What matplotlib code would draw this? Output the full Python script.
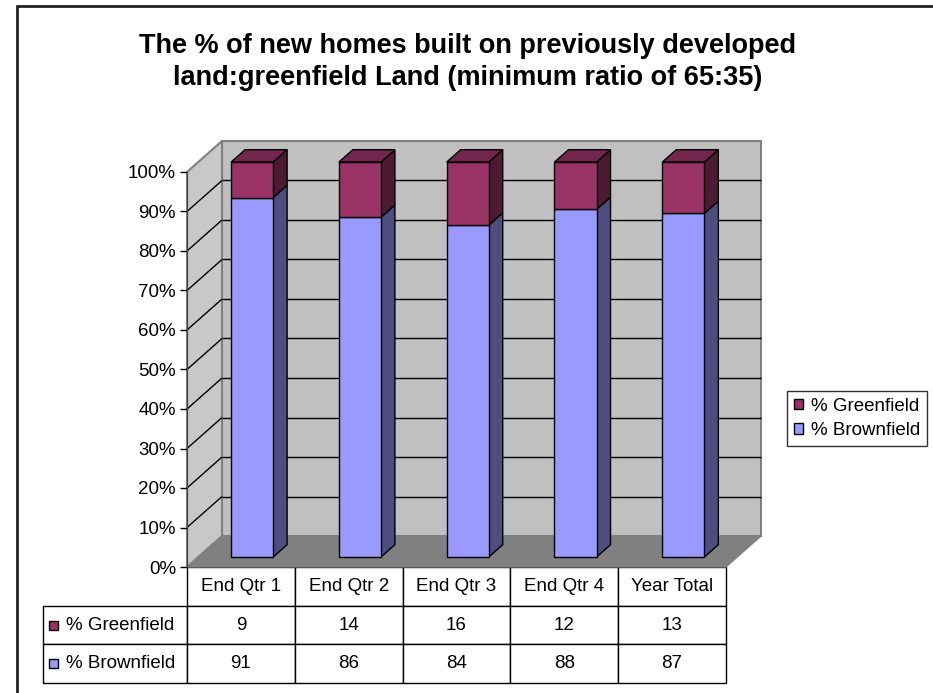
import matplotlib
matplotlib.use("Agg")
from matplotlib import pyplot
from matplotlib import transforms
from matplotlib.patches import Rectangle, Polygon, Patch
from matplotlib.collections import LineCollection
from matplotlib.table import Table

pyplot.rcParams['font.family'] = ['Liberation Sans', 'DejaVu Sans']

# data
categories = ['End Qtr 1', 'End Qtr 2', 'End Qtr 3', 'End Qtr 4', 'Year Total']
greenfield = [9, 14, 16, 12, 13]
brownfield = [91, 86, 84, 88, 87]
series_names = ['% Greenfield', '% Brownfield']
y_ticks = [0, 10, 20, 30, 40, 50, 60, 70, 80, 90, 100]
y_tick_labels = ['0%', '10%', '20%', '30%', '40%', '50%', '60%', '70%', '80%', '90%', '100%']
TITLE = ('The % of new homes built on previously developed\n'
         'land:greenfield Land (minimum ratio of 65:35)')

BROWN_FRONT = '#9999ff'
BROWN_SIDE = '#4d4d80'
GREEN_FRONT = '#993366'
GREEN_SIDE = '#4d1a33'
GREEN_TOP = '#73264d'

DX, DY = 35, 31          # depth of the 3d box, in dots
F0, F1 = 0.32, 0.72      # front / back of the bars, as share of the depth
BAR_W = 0.39
FS = 13.5

fig = pyplot.figure(figsize=(9.33, 6.93), dpi=100)
ax = fig.add_axes([187 / 933, 126 / 693, 539 / 933, 395 / 693])
ax.set_xlim(-0.5, len(categories) - 0.5)
ax.set_ylim(0, 100)
ax.autoscale(False)
ax.set_facecolor('none')

ident = transforms.IdentityTransform()


def depth_t(d):
    return transforms.offset_copy(ax.transData, fig=fig, x=DX * d, y=DY * d, units='dots')


def px(x, y, d):
    X, Y = ax.transData.transform((x, y))
    return (X + DX * d, Y + DY * d)


x_lo, x_hi = -0.5, len(categories) - 0.5

# back wall, side wall, floor
ax.add_patch(Rectangle((x_lo, 0), x_hi - x_lo, 100, transform=depth_t(1),
                       facecolor='#c0c0c0', edgecolor='#808080', lw=1.5, zorder=0, clip_on=False))
ax.add_patch(Polygon([px(x_lo, 0, 0), px(x_lo, 100, 0), px(x_lo, 100, 1), px(x_lo, 0, 1)],
                     transform=ident, facecolor='#c8c8c8', edgecolor='#808080', lw=1.5,
                     zorder=0.5, clip_on=False))
ax.add_patch(Polygon([px(x_lo, 0, 0), px(x_hi, 0, 0), px(x_hi, 0, 1), px(x_lo, 0, 1)],
                     transform=ident, facecolor='#808080', edgecolor='#808080', lw=1,
                     zorder=1, clip_on=False))

# gridlines on the back wall and on the side wall
ax.hlines(y_ticks[1:-1], x_lo, x_hi, transform=depth_t(1), colors='black', lw=1,
          zorder=1.5, clip_on=False)
diag = [[px(x_lo, y, 0), px(x_lo, y, 1)] for y in y_ticks[1:-1]]
ax.add_collection(LineCollection(diag, transform=ident, colors='black', lw=1,
                                 zorder=1.5, clip_on=False))

# bars
front = depth_t(F0)
for i in range(len(categories)):
    b, g = brownfield[i], greenfield[i]
    x1 = i + BAR_W / 2
    x0 = i - BAR_W / 2
    for lo, hi, col in [(0, b, BROWN_SIDE), (b, b + g, GREEN_SIDE)]:
        ax.add_patch(Polygon([px(x1, lo, F0), px(x1, hi, F0), px(x1, hi, F1), px(x1, lo, F1)],
                             transform=ident, facecolor=col, edgecolor='black', lw=1,
                             zorder=4, clip_on=False))
    top = b + g
    ax.add_patch(Polygon([px(x0, top, F0), px(x1, top, F0), px(x1, top, F1), px(x0, top, F1)],
                         transform=ident, facecolor=GREEN_TOP, edgecolor='black', lw=1,
                         zorder=4, clip_on=False))
ax.bar(range(len(categories)), brownfield, BAR_W, transform=front, color=BROWN_FRONT,
       edgecolor='black', lw=1, zorder=5, clip_on=False)
ax.bar(range(len(categories)), greenfield, BAR_W, bottom=brownfield, transform=front,
       color=GREEN_FRONT, edgecolor='black', lw=1, zorder=5, clip_on=False)

# axes
ax.set_yticks(y_ticks)
ax.set_yticklabels(y_tick_labels)
ax.set_xticks([])
ax.tick_params(axis='y', length=5, width=1, pad=3, labelsize=FS, colors='black')
for s in ['top', 'right', 'bottom']:
    ax.spines[s].set_visible(False)
ax.spines['left'].set_color('#404040')
ax.spines['left'].set_zorder(2)

# data table
TAB_H = 116 / 395
LABEL_W = 144 / 539
row_h = TAB_H / 3
col_w = 1 / len(categories)
tab = Table(ax, bbox=[0, -TAB_H, 1, TAB_H])
for j, c in enumerate(categories):
    tab.add_cell(0, j, col_w, row_h, text=c, loc='center', facecolor='white', edgecolor='black')
for r, (name, vals) in enumerate([(series_names[0], greenfield), (series_names[1], brownfield)]):
    cell = tab.add_cell(r + 1, -1, LABEL_W, row_h, text=name, loc='left',
                        facecolor='white', edgecolor='black')
    cell.PAD = 0.16
    for j, v in enumerate(vals):
        tab.add_cell(r + 1, j, col_w, row_h, text=str(v), loc='center',
                     facecolor='white', edgecolor='black')
tab.auto_set_font_size(False)
tab.set_fontsize(FS)
ax.add_table(tab)

# legend keys in the table
for r, col in enumerate([GREEN_FRONT, BROWN_FRONT]):
    yc = -row_h * (1.5 + r)
    ax.add_patch(Rectangle((-LABEL_W + 6 / 539, yc - 4.5 / 395), 9 / 539, 9 / 395,
                           transform=ax.transAxes, facecolor=col, edgecolor='black',
                           lw=1, clip_on=False, zorder=6))

# legend
handles = [Patch(facecolor=GREEN_FRONT, edgecolor='black'),
           Patch(facecolor=BROWN_FRONT, edgecolor='black')]
leg = fig.legend(handles, series_names, loc='upper left', bbox_to_anchor=(787 / 933, 1 - 391 / 693),
                 borderaxespad=0, fontsize=FS, fancybox=False, frameon=True,
                 handlelength=0.5, handleheight=0.5, handletextpad=0.45,
                 labelspacing=0.4, borderpad=0.35)
leg.get_frame().set_edgecolor('black')
leg.get_frame().set_linewidth(1)

# title
fig.text(468 / 933, 1 - 62 / 693, TITLE, ha='center', va='center', fontsize=19.5,
         fontweight='bold', linespacing=1.3)

# outer border (only top and left edges show)
fig.add_artist(Rectangle((17 / 933, -0.1), 1.2, 1.1 - 6 / 693, transform=fig.transFigure,
                         fill=False, edgecolor='#222222', lw=2))

fig.savefig('out.png', dpi=100)
